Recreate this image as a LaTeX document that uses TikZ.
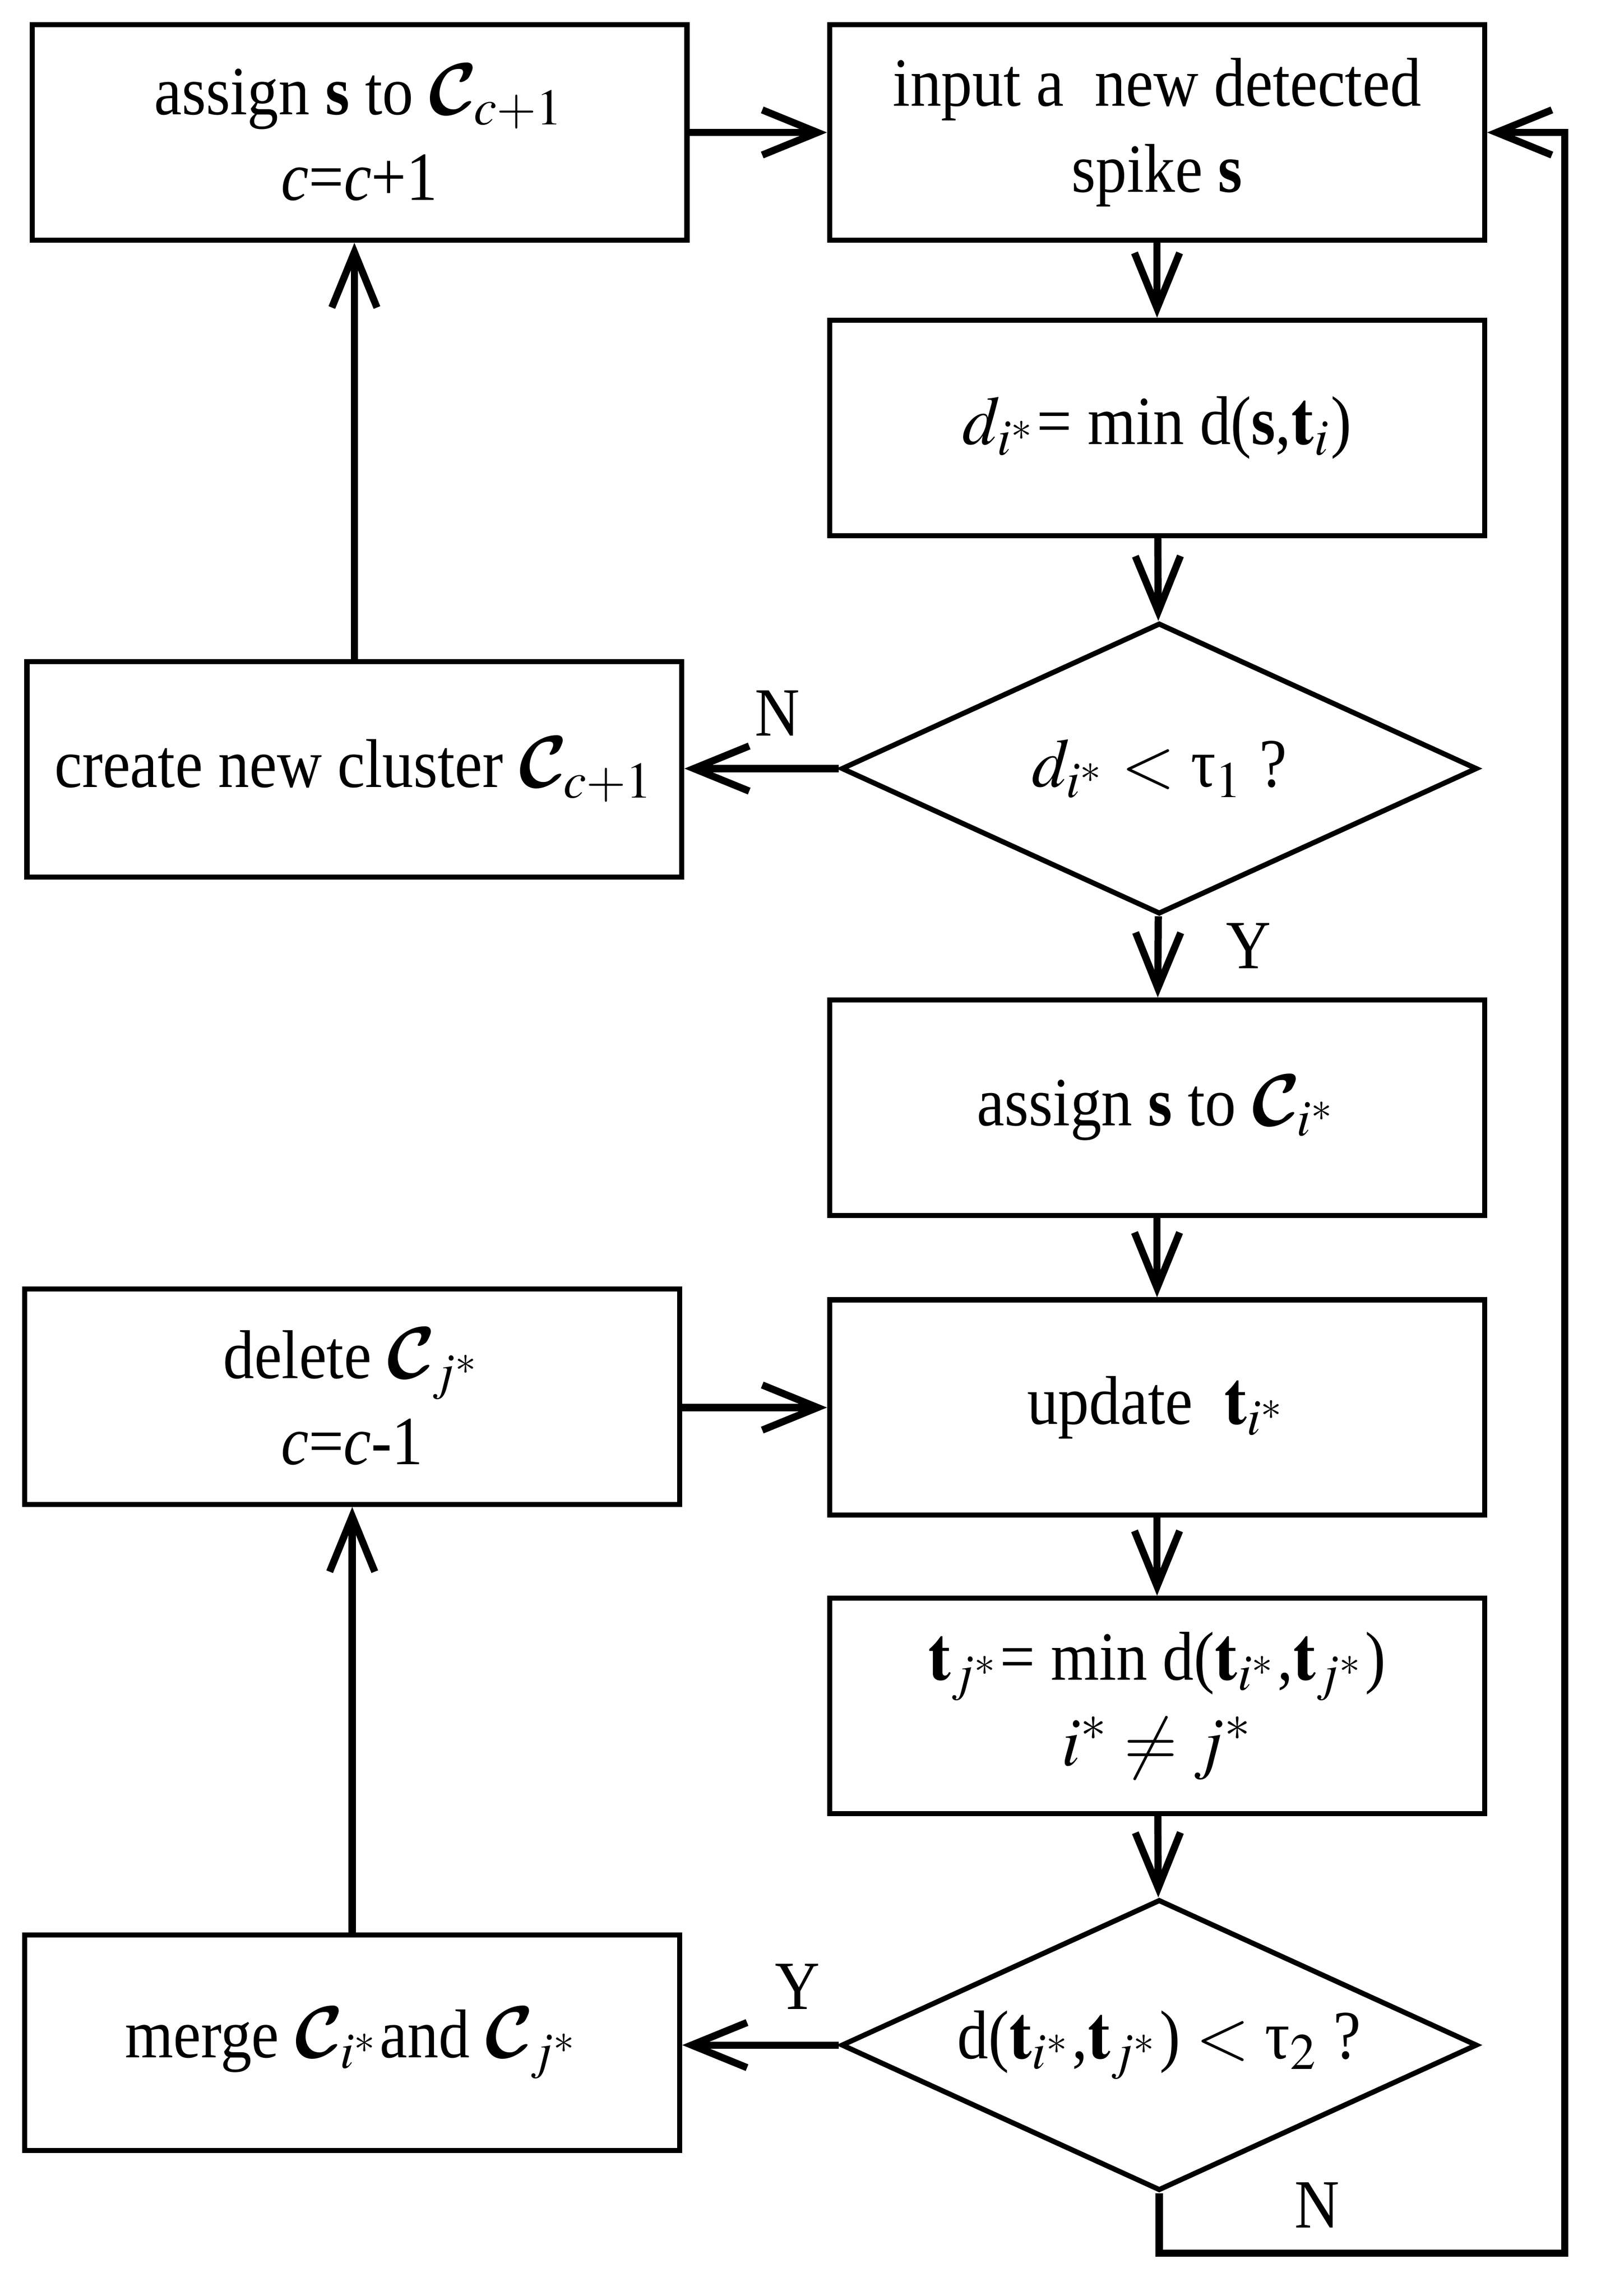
\documentclass[tikz,border=0pt]{standalone}
\usepackage{amsmath}
\IfFileExists{mathptmx.sty}{\usepackage{mathptmx}}{}
\usepackage[no-math]{fontspec}
\setmainfont{Liberation Serif}[FakeStretch=0.9]
\DeclareMathAlphabet{\mathclust}{OMS}{cmsy}{b}{n}
\usepackage{tikz}
\usetikzlibrary{arrows.meta, shapes.geometric}

\begin{document}
\begin{tikzpicture}[
  every node/.style={font=\fontsize{13.5pt}{16.8pt}\selectfont},
  box/.style={draw, line width=1pt, minimum width=4.5cm, minimum height=1.48cm, align=center, inner sep=2pt},
  decision/.style={draw, diamond, aspect=2.18, minimum width=4.37cm, minimum height=2cm, inner sep=0pt, line width=1pt},
  arr/.style={-{Straight Barb[length=3.8mm,width=3.1mm]}, line width=1.4pt}]
\useasboundingbox (0,0) rectangle (11,-15.774);
% right column
\node[box] (input) at (7.95,-0.91) {input a\ \ new detected\\spike \textbf{s}};
\node[box] (dmin) at (7.95,-2.94) {$d_{i^*}$= min d(\textbf{s},$\mathbf{t}_i$)};
\node[decision] (test1) at (7.965,-5.28) {$d_{i^*} < $ τ$_1$ ?};
\node[box] (assigni) at (7.95,-7.61) {assign \textbf{s} to $\mathclust{C}_{i^*}$};
\node[box] (update) at (7.95,-9.67) {update\ \ $\mathbf{t}_{i^*}$};
\node[box] (tj) at (7.95,-11.72) {$\mathbf{t}_{j^*}$= min d($\mathbf{t}_{i^*}$,$\mathbf{t}_{j^*}$)\\$i^* \neq j^*$};
\node[decision] (test2) at (7.965,-14.05) {d($\mathbf{t}_{i^*}$,$\mathbf{t}_{j^*}$) $<$ τ$_2$ ?};
% left column
\node[box] (assignc) at (2.47,-0.91) {assign \textbf{s} to $\mathclust{C}_{c+1}$\\\textit{c}=\textit{c}+1};
\node[box] (create) at (2.435,-5.285) {create new cluster $\mathclust{C}_{c+1}$};
\node[box] (delete) at (2.42,-9.595) {delete $\mathclust{C}_{j^*}$\\\textit{c}=\textit{c}-1};
\node[box] (merge) at (2.42,-14.035) {merge $\mathclust{C}_{i^*}$and $\mathclust{C}_{j^*}$};
% labels
\node (n1) at (5.34,-4.90) {N};
\node (y1) at (8.58,-6.50) {Y};
\node (y2) at (5.48,-13.65) {Y};
\node (n2) at (9.05,-15.15) {N};
\coordinate (loop) at (10.75,-15.48);
% connectors
\draw[arr] (assignc) -- (input);
\draw[arr] (input) -- (dmin);
\draw[arr] (dmin) -- (test1);
\draw[arr] (test1.west) -- (create.east |- test1.west);
\draw[arr] (test1) -- (assigni);
\draw[arr] (create.north) -- (create.north |- assignc.south);
\draw[arr] (assigni) -- (update);
\draw[arr] (delete.east |- update) -- (update);
\draw[arr] (update) -- (tj);
\draw[arr] (tj) -- (test2);
\draw[arr] (test2.west) -- (merge.east |- test2.west);
\draw[arr] (merge) -- (delete);
\draw[arr] (test2.south) |- (loop) |- (input.east);
\end{tikzpicture}
\end{document}
